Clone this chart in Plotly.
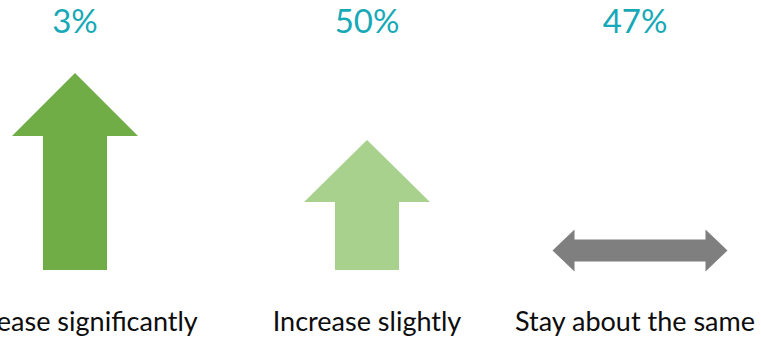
import plotly.graph_objects as go

# Survey answers, their shares and the arrow glyph for each answer
categories = ["Increase significantly", "Increase slightly", "Stay about the same"]
shares = [3, 50, 47]
glyphs = ["up_long", "up_short", "both_ways"]

W, H = 761, 341

# Horizontal slot centre of each answer (pixel units)
slot_x = [75, 367, 635]

# Glyph geometry, in pixels
GLYPH_STYLE = {
    "up_long":   dict(kind="up", dx=0, top=73, bottom=270, head_w=126, head_h=63, shaft_w=64, color="#70AD47"),
    "up_short":  dict(kind="up", dx=0, top=140, bottom=270, head_w=126, head_h=62, shaft_w=64, color="#A9D18E"),
    "both_ways": dict(kind="lr", dx=5, cy=250.5, length=175, head_w=42, head_l=22, shaft_w=22, color="#7F7F7F"),
}


def glyph_polygon(cx, s):
    if s["kind"] == "up":
        x = cx + s["dx"]
        hw, sw = s["head_w"] / 2, s["shaft_w"] / 2
        yb = s["top"] + s["head_h"]
        xs = [x, x + hw, x + sw, x + sw, x - sw, x - sw, x - hw, x]
        ys = [s["top"], yb, yb, s["bottom"], s["bottom"], yb, yb, s["top"]]
    else:
        x = cx + s["dx"]
        half = s["length"] / 2
        hw, sw = s["head_w"] / 2, s["shaft_w"] / 2
        y = s["cy"]
        l, r = x - half, x + half
        lb, rb = l + s["head_l"], r - s["head_l"]
        xs = [l, lb, lb, rb, rb, r, rb, rb, lb, lb, l]
        ys = [y, y - hw, y - sw, y - sw, y - hw, y, y + hw, y + sw, y + sw, y + hw, y]
    return xs, ys


fig = go.Figure()

for cat, share, g, cx in zip(categories, shares, glyphs, slot_x):
    s = GLYPH_STYLE[g]
    xs, ys = glyph_polygon(cx, s)
    fig.add_trace(go.Scatter(
        x=xs, y=ys, mode="lines", fill="toself",
        fillcolor=s["color"], line=dict(width=0, color=s["color"]),
        hoverinfo="skip", showlegend=False,
    ))

# Share labels above the glyphs
fig.add_trace(go.Scatter(
    x=slot_x, y=[25] * len(shares), mode="text",
    text=[f"{v}%" for v in shares],
    textfont=dict(family="Lato", size=33, color="#17A9B7"),
    textposition="middle center", cliponaxis=False,
    hoverinfo="skip", showlegend=False,
))

# Answer labels below the glyphs
fig.add_trace(go.Scatter(
    x=slot_x, y=[324] * len(categories), mode="text",
    text=categories,
    textfont=dict(family="Lato", size=27, color="#0D0D0D"),
    textposition="middle center", cliponaxis=False,
    hoverinfo="skip", showlegend=False,
))

fig.update_layout(
    width=W, height=H,
    margin=dict(l=0, r=0, t=0, b=0),
    paper_bgcolor="white", plot_bgcolor="white",
    xaxis=dict(range=[0, W], visible=False, fixedrange=True),
    yaxis=dict(range=[H, 0], visible=False, fixedrange=True),
)

fig.write_html("out.html", config={"displayModeBar": False})
